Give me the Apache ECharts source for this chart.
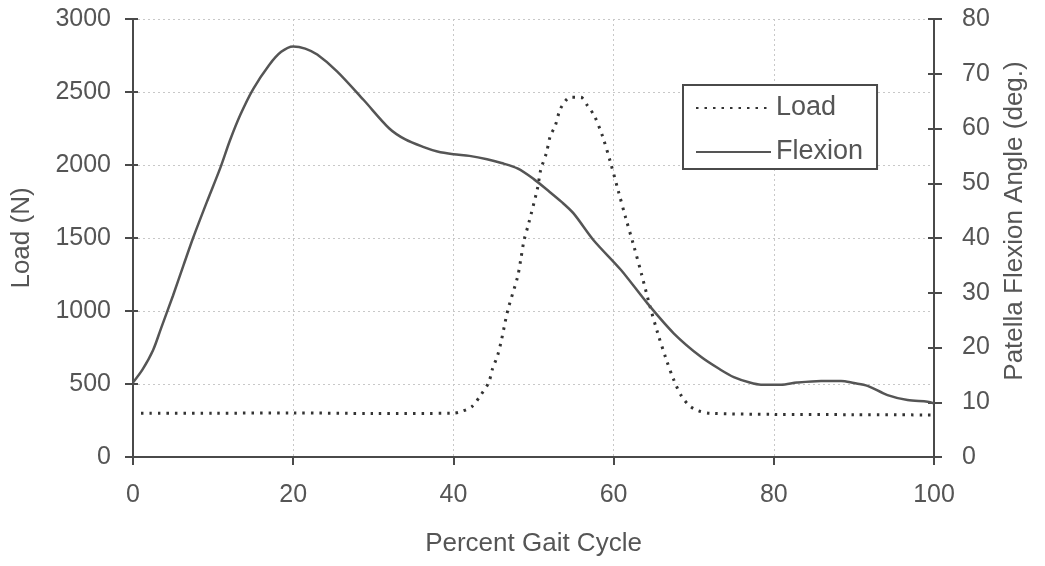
<!DOCTYPE html>
<html>
<head>
<meta charset="utf-8">
<script src="https://cdn.jsdelivr.net/npm/echarts@6/dist/echarts.min.js"></script>
<style>
  html, body { margin: 0; padding: 0; background: #fff; }
  #chart { width: 1045px; height: 566px; }
</style>
</head>
<body>
<div id="chart"></div>
<script>
// Patellar load (N) and flexion angle (deg) over one gait cycle
const flexionPct = [0, 1.2, 2.5, 3.5, 5, 6.3, 7.5, 9.2, 10.9, 12.1, 13.4, 15, 17, 18.5, 20, 21.5, 23, 25.5, 28.8, 32, 34, 36.3, 38, 40, 42, 44.2, 46, 48, 50, 51.7, 53.5, 55, 57.5, 60.9, 64.2, 67.5, 70.9, 73.4, 75, 77, 78.4, 80.9, 82.9, 85.9, 88.4, 90, 91.7, 94.2, 96.7, 99.2, 100];
const flexionDeg = [13.6, 16, 19.5, 23.5, 29.5, 35, 40, 46.5, 52.8, 57.8, 62.5, 67.2, 71.6, 74, 75.0, 74.6, 73.5, 70.4, 65.2, 60, 58, 56.6, 55.8, 55.3, 55, 54.4, 53.7, 52.7, 50.8, 48.8, 46.6, 44.5, 39.6, 34.2, 28.1, 22.6, 18.3, 15.9, 14.6, 13.6, 13.2, 13.2, 13.6, 13.9, 13.9, 13.5, 13.0, 11.3, 10.4, 10.1, 9.8];

const loadPct = [1, 10, 20, 30, 40, 40.9, 42.3, 43.4, 44.4, 44.9, 45.5, 46.0, 46.8, 48, 48.4, 48.8, 49.4, 50.5, 50.9, 51.6, 52.1, 52.7, 53.3, 54, 54.6, 55.9, 56.7, 57.6, 58.6, 59.6, 60.6, 61.5, 62.5, 63.5, 64.5, 65.5, 66.5, 67.5, 68.5, 69.5, 70.5, 72, 80, 90, 100];
const loadN = [300, 300, 302, 298, 300, 310, 345, 423, 509, 607, 692, 801, 1007, 1231, 1349, 1479, 1600, 1840, 1966, 2080, 2199, 2267, 2377, 2440, 2464, 2464, 2410, 2336, 2200, 2020, 1820, 1640, 1450, 1250, 1040, 850, 680, 530, 415, 350, 318, 300, 292, 290, 288];

const xTicks = { min: 0, max: 100, interval: 20 };
const loadTicks = { min: 0, max: 3000, interval: 500 };
const angleTicks = { min: 0, max: 80, interval: 10 };

const FONT = "'Liberation Sans', Arial, sans-serif";
const INK = '#4a4a4a';
const TEXT = '#555';
const plain = v => String(v);

const zip = (xs, ys) => xs.map((x, i) => [x, ys[i]]);

const chart = echarts.init(document.getElementById('chart'), null, { renderer: 'canvas' });

const baseY = {
  type: 'value',
  axisLine: { show: true, lineStyle: { color: INK, width: 2 } },
  axisTick: { show: true, length: 8, lineStyle: { color: INK, width: 2 } },
  axisLabel: { fontSize: 25, color: TEXT, fontFamily: FONT, formatter: plain },
  nameLocation: 'middle',
  nameTextStyle: { fontSize: 26, color: TEXT, fontFamily: FONT }
};

chart.setOption({
  animation: false,
  backgroundColor: '#fff',
  textStyle: { fontFamily: FONT },
  grid: { left: 133, right: 111, top: 19, bottom: 109, containLabel: false },
  legend: {
    orient: 'vertical',
    left: 683,
    top: 85,
    padding: [8, 14, 2, 12],
    itemWidth: 75,
    itemHeight: 14,
    itemGap: 14,
    borderColor: INK,
    borderWidth: 2,
    backgroundColor: '#fff',
    itemStyle: { opacity: 0 },
    textStyle: { fontSize: 27, color: TEXT, fontFamily: FONT, lineHeight: 30 },
    data: ['Load', 'Flexion']
  },
  xAxis: {
    type: 'value',
    min: xTicks.min, max: xTicks.max, interval: xTicks.interval,
    name: 'Percent Gait Cycle',
    nameLocation: 'middle',
    nameGap: 74,
    nameTextStyle: { fontSize: 26, color: TEXT, fontFamily: FONT },
    axisLine: { show: true, onZero: false, lineStyle: { color: INK, width: 2 } },
    axisTick: { show: true, length: 8, lineStyle: { color: INK, width: 2 } },
    axisLabel: { fontSize: 25, color: TEXT, fontFamily: FONT, margin: 26, formatter: plain },
    splitLine: { show: true, lineStyle: { color: '#c8c8c8', type: [2, 3], width: 1 } }
  },
  yAxis: [
    Object.assign({}, baseY, {
      position: 'left',
      min: loadTicks.min, max: loadTicks.max, interval: loadTicks.interval,
      name: 'Load (N)',
      nameGap: 98,
      axisLabel: Object.assign({}, baseY.axisLabel, { margin: 22 }),
      splitLine: { show: true, lineStyle: { color: '#c8c8c8', type: [2, 3], width: 1 } }
    }),
    Object.assign({}, baseY, {
      position: 'right',
      min: angleTicks.min, max: angleTicks.max, interval: angleTicks.interval,
      name: 'Patella Flexion Angle (deg.)',
      nameGap: 68,
      nameTextStyle: Object.assign({}, baseY.nameTextStyle, { padding: [0, 0, 0, 34] }),
      axisLabel: Object.assign({}, baseY.axisLabel, { margin: 28 }),
      splitLine: { show: false }
    }),
    // inner halves of the crossing tick marks
    {
      type: 'value', position: 'left',
      min: loadTicks.min, max: loadTicks.max, interval: loadTicks.interval,
      axisLine: { show: false },
      axisTick: { show: true, inside: true, length: 5, lineStyle: { color: INK, width: 2 } },
      axisLabel: { show: false },
      splitLine: { show: false }
    },
    {
      type: 'value', position: 'right',
      min: angleTicks.min, max: angleTicks.max, interval: angleTicks.interval,
      axisLine: { show: false },
      axisTick: { show: true, inside: true, length: 6, lineStyle: { color: INK, width: 2 } },
      axisLabel: { show: false },
      splitLine: { show: false }
    }
  ],
  series: [
    {
      name: 'Load',
      type: 'line',
      yAxisIndex: 0,
      data: zip(loadPct, loadN),
      smooth: 0.3,
      symbol: 'none',
      lineStyle: { color: '#333', width: 3, type: [2.5, 6] },
      itemStyle: { color: '#333' },
      z: 3
    },
    {
      name: 'Flexion',
      type: 'line',
      yAxisIndex: 1,
      data: zip(flexionPct, flexionDeg),
      smooth: 0.3,
      symbol: 'none',
      lineStyle: { color: '#555', width: 2.5 },
      itemStyle: { color: '#555' },
      z: 4
    }
  ]
});
</script>
</body>
</html>
